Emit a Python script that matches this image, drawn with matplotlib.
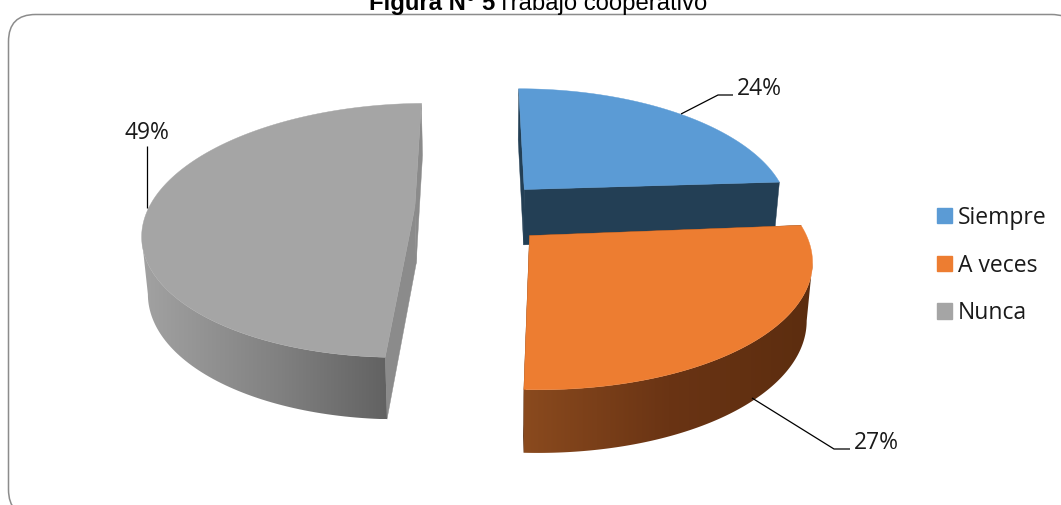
import matplotlib
matplotlib.use('Agg')
import matplotlib.pyplot as plt
import numpy as np
from matplotlib.colors import LinearSegmentedColormap
from matplotlib.patches import FancyBboxPatch, Patch, Polygon

# data
categories = ['Siempre', 'A veces', 'Nunca']
percent = [24, 27, 49]
top_colors = ['#5B9BD5', '#ED7D31', '#A5A5A5']

# look of the fake 3D pie (values are pixels of the 1061x505 figure)
CX, CY = 488, 205
A, B = 265, 122      # horizontal and vertical radius
K = 0.18             # perspective strength
DEPTH = 56
NARROW = 0.018       # walls lean in a little going down
offsets = [(0.14, 0.13), (0.15, -0.24), (-0.275, -0.02)]
squash = [1.02, 0.95, 1.0]
rotate = [0.0, -1.1, -1.2]
cut_colors = ['#233F55', '#5F2F10', '#8B8B8B']
wall_stops = [['#2A4A66', '#233F55'], ['#8A4A1E', '#6A3414', '#5C2D0F'], ['#A2A2A2', '#808080', '#585858']]


def project(x, y, z=0.0):
    w = 1 + K * y
    return CX + A * x / w * (1 - NARROW * z), CY - B * y / w + DEPTH * z / np.sqrt(w)


def draw_slice(ax, t0, t1, off, sq, top, cut, stops, zbase):
    ox, oy = off
    th = np.radians(np.linspace(t0, t1, 160))
    xs = ox + np.sin(th)
    ys = oy + sq * np.cos(th)

    # straight cut faces first
    for x, y in [(xs[0], ys[0]), (xs[-1], ys[-1])]:
        quad = [project(ox, oy), project(x, y), project(x, y, 1), project(ox, oy, 1)]
        ax.add_patch(Polygon(quad, closed=True, fc=cut, ec=cut, lw=0.3, zorder=zbase))

    px0, py0 = project(xs, ys)
    px1, py1 = project(xs, ys, 1)

    # outer wall, shaded left to right, only the part of the rim facing us
    sil = np.argmax(np.abs(px0 - CX))
    front = ys <= ys[sil]
    if front.sum() > 1:
        wall = Polygon(list(zip(px0[front], py0[front])) + list(zip(px1[front][::-1], py1[front][::-1])),
                       closed=True, fc='none', ec='none')
        ax.add_patch(wall)
        cmap = LinearSegmentedColormap.from_list('wall', stops)
        img = ax.imshow(np.linspace(0, 1, 256).reshape(1, -1), cmap=cmap, aspect='auto',
                        extent=(px0.min(), px0.max(), py1.max(), py0.min()), interpolation='bilinear', zorder=zbase + 1)
        img.set_clip_path(wall)

    # top surface
    outline = [project(ox, oy)] + list(zip(px0, py0))
    ax.add_patch(Polygon(outline, closed=True, fc=top, ec=top, lw=0.3, zorder=zbase + 2))


fig = plt.figure(figsize=(10.61, 5.05), dpi=100)
ax = fig.add_axes([0, 0, 1, 1])
ax.axis('off')

# rounded chart frame, runs off the right and bottom of the image
ax.add_patch(FancyBboxPatch((8.5, 14.5), 1070, 502, boxstyle='round,pad=0,rounding_size=27',
                            fc='white', ec='#8C8C8C', lw=1.1, zorder=0))

edges = np.cumsum([0] + percent) * 3.6
for i in range(len(percent)):
    draw_slice(ax, edges[i] + rotate[i], edges[i + 1] + rotate[i], offsets[i], squash[i],
               top_colors[i], cut_colors[i], wall_stops[i], 1 + 3 * i)

# leader lines and labels
LABEL_FONT = 'Open Sans'
leaders = [([681, 718, 733], [114, 95, 95]), ([752, 834, 850], [398, 449, 449]), ([147, 147], [208, 146])]
label_pos = [(759, 89), (876, 443), (147, 133)]
for i in range(3):
    ax.plot(leaders[i][0], leaders[i][1], color='black', lw=0.9, solid_capstyle='butt', zorder=12)
    ax.text(label_pos[i][0], label_pos[i][1], f'{percent[i]}%', ha='center', va='center',
            fontsize=16.5, family=LABEL_FONT, color='#1A1A1A', zorder=12)

handles = [Patch(fc=c, ec=c, label=n) for c, n in zip(top_colors, categories)]
ax.legend(handles=handles, loc='center left', bbox_to_anchor=(937 / 1061, 1 - 265.5 / 505), frameon=False,
          handlelength=0.65, handleheight=0.65, handletextpad=0.26, labelspacing=1.03,
          prop={'family': LABEL_FONT, 'size': 16.5}, labelcolor='#1A1A1A', borderpad=0, borderaxespad=0)

# title sits half cut by the top of the image
ax.text(495, 10, 'Figura N° 5', ha='right', va='baseline', fontsize=17.2, fontweight='bold', family='Liberation Sans')
ax.text(497, 10, 'Trabajo cooperativo', ha='left', va='baseline', fontsize=17.2, family='Liberation Sans')

ax.set_xlim(0, 1061)
ax.set_ylim(505, 0)
fig.savefig('out.png', dpi=100)
